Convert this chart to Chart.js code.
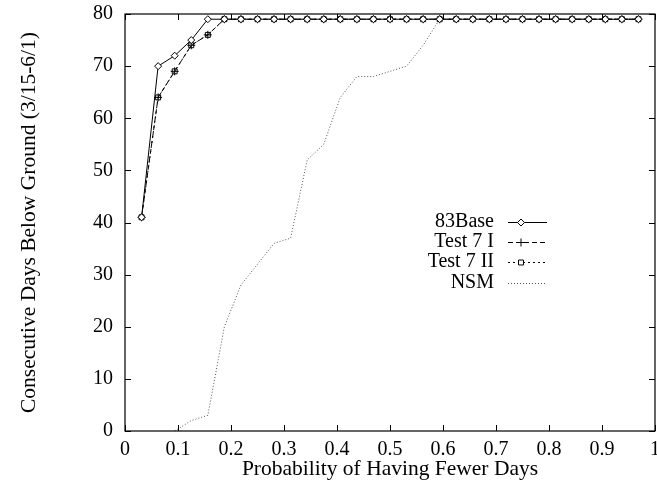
<!DOCTYPE html>
<html><head><meta charset="utf-8">
<script src="https://cdn.jsdelivr.net/npm/chart.js@4"></script>
<style>html,body{margin:0;padding:0;background:#fff}#wrap{width:657px;height:487px}</style>
</head><body><div id="wrap"><canvas id="c" width="657" height="487"></canvas></div>
<script>
const xProb = [0.03125,0.0625,0.09375,0.125,0.15625,0.1875,0.21875,0.25,0.28125,0.3125,0.34375,0.375,0.40625,0.4375,0.46875,0.5,0.53125,0.5625,0.59375,0.625,0.65625,0.6875,0.71875,0.75,0.78125,0.8125,0.84375,0.875,0.90625,0.9375,0.96875];
const base83 = [41,70,72,75,79,79,79,79,79,79,79,79,79,79,79,79,79,79,79,79,79,79,79,79,79,79,79,79,79,79,79];
const test7I = [41,64,69,74,76,79,79,79,79,79,79,79,79,79,79,79,79,79,79,79,79,79,79,79,79,79,79,79,79,79,79];
const test7II = [41,64,69,74,76,79,79,79,79,79,79,79,79,79,79,79,79,79,79,79,79,79,79,79,79,79,79,79,79,79,79];
const nsm = [null,null,0,2,3,20,28,32,36,37,52,55,64,68,68,69,70,74,79,79,79,79,79,79,79,79,79,79,79,79,79];
const seriesNames = ["83Base","Test 7 I","Test 7 II","NSM"];
const xTicks = [0,0.1,0.2,0.3,0.4,0.5,0.6,0.7,0.8,0.9,1];
const yTicks = [0,10,20,30,40,50,60,70,80];

const FONT = "'Liberation Serif','Times New Roman',serif";
const pts = arr => xProb.map((x,i)=>({x:x,y:arr[i]})).filter(p=>p.y!==null);

const frame = {
  id:'frame',
  afterDatasetsDraw(chart){
    const {ctx, chartArea:a, scales:{x,y}} = chart;
    ctx.save();
    ctx.strokeStyle='#000'; ctx.lineWidth=1.2;
    ctx.strokeRect(a.left, a.top, a.right-a.left, a.bottom-a.top);
    ctx.lineWidth=1;
    ctx.beginPath();
    xTicks.forEach(v=>{const px=Math.round(x.getPixelForValue(v))+0.5;
      ctx.moveTo(px,a.bottom); ctx.lineTo(px,a.bottom-6);
      ctx.moveTo(px,a.top); ctx.lineTo(px,a.top+6);});
    yTicks.forEach(v=>{const py=Math.round(y.getPixelForValue(v))+0.5;
      ctx.moveTo(a.left,py); ctx.lineTo(a.left+6,py);
      ctx.moveTo(a.right,py); ctx.lineTo(a.right-6,py);});
    ctx.stroke();
    // legend (gnuplot style)
    ctx.font = "20px " + FONT;
    ctx.textAlign='right'; ctx.textBaseline='middle';
    const rows=[222,242,262,283];
    chart.data.datasets.forEach((ds,i)=>{
      const yy=rows[i];
      ctx.fillStyle='#000';
      ctx.fillText(ds.label, 494, yy);
      ctx.save();
      ctx.strokeStyle=ds.borderColor; ctx.lineWidth=ds.borderWidth;
      ctx.setLineDash(ds.borderDash||[]);
      ctx.beginPath(); ctx.moveTo(508,yy+0.5); ctx.lineTo(547,yy+0.5); ctx.stroke();
      ctx.restore();
      if(ds.pointStyle && ds.pointRadius>0){
        ctx.save();
        ctx.fillStyle='#fff'; ctx.strokeStyle='#000'; ctx.lineWidth=1; ctx.setLineDash([]);
        Chart.helpers.drawPoint(ctx,{pointStyle:ds.pointStyle,radius:ds.pointRadius,borderWidth:1},521,yy+0.5);
        ctx.restore();
      }
    });
    ctx.restore();
  }
};

new Chart(document.getElementById('c'),{
  type:'line',
  data:{datasets:[
    {label:seriesNames[0],data:pts(base83),borderColor:'#000',borderWidth:1,pointStyle:'rectRot',pointRadius:3.5,pointBackgroundColor:'#fff',pointBorderColor:'#000',pointBorderWidth:1},
    {label:seriesNames[1],data:pts(test7I),borderColor:'#000',borderWidth:1,borderDash:[5,3],pointStyle:'cross',pointRadius:4,pointBorderColor:'#000',pointBorderWidth:1},
    {label:seriesNames[2],data:pts(test7II),borderColor:'#000',borderWidth:1,borderDash:[2,3],pointStyle:'rect',pointRadius:3.5,pointBackgroundColor:'rgba(0,0,0,0)',pointBorderColor:'#000',pointBorderWidth:1},
    {label:seriesNames[3],data:pts(nsm),borderColor:'#555',borderWidth:1,borderDash:[1,2],pointRadius:0}
  ]},
  options:{
    responsive:false, animation:false,
    layout:{autoPadding:false,padding:{top:14,right:2,left:0,bottom:0}},
    plugins:{legend:{display:false},tooltip:{enabled:false}},
    elements:{line:{tension:0}},
    scales:{
      x:{type:'linear',min:0,max:1,
        grid:{display:false,drawTicks:false},border:{display:false},
        afterBuildTicks(s){s.ticks=xTicks.map(v=>({value:v}));},
        afterFit(s){s.height=56; s.paddingLeft=0; s.paddingRight=0;},
        ticks:{padding:7,color:'#000',font:{family:FONT,size:20},maxRotation:0,
          callback:v=>String(v)},
        title:{display:true,text:'Probability of Having Fewer Days',color:'#000',font:{family:FONT,size:21.5},padding:{top:0,bottom:5}}
      },
      y:{type:'linear',min:0,max:80,
        grid:{display:false,drawTicks:false},border:{display:false},
        afterBuildTicks(s){s.ticks=yTicks.map(v=>({value:v}));},
        afterFit(s){s.width=125; s.paddingTop=0; s.paddingBottom=0;},
        ticks:{padding:12,color:'#000',font:{family:FONT,size:20}},
        title:{display:true,text:'Consecutive Days Below Ground (3/15-6/1)',color:'#000',font:{family:FONT,size:21.5},padding:{top:16,bottom:0}}
      }
    }
  },
  plugins:[frame]
});
</script></body></html>
